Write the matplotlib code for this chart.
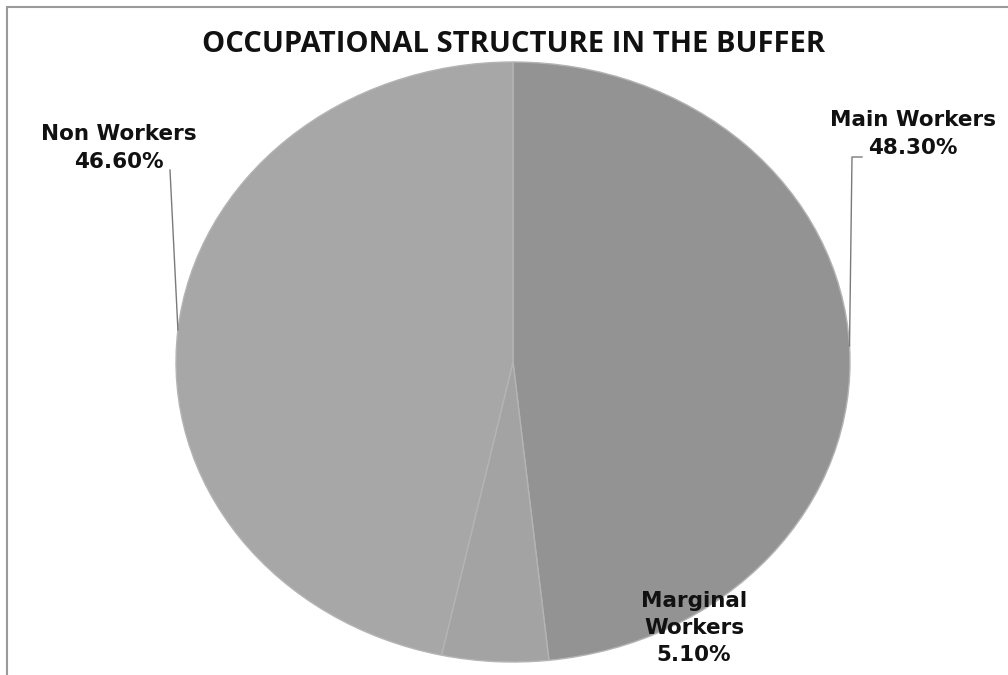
import matplotlib
matplotlib.use("Agg")
import matplotlib.pyplot as plt
import numpy as np

categories = ["Main Workers", "Marginal\nWorkers", "Non Workers"]
values = [48.3, 5.1, 46.6]
label_texts = ["Main Workers\n48.30%", "Marginal\nWorkers\n5.10%", "Non Workers\n46.60%"]
colors = ["#939393", "#a3a3a3", "#a7a7a7"]

W, H = 1008, 675
fig = plt.figure(figsize=(W / 100, H / 100), dpi=100)
fig.patch.set_facecolor("white")

# outer frame
frame = plt.Rectangle((7 / W, -0.1), 1.2, (H - 7) / H + 0.1, transform=fig.transFigure,
                      fill=False, edgecolor="#9a9a9a", linewidth=1.5)
fig.add_artist(frame)

# pie axes (elliptical pie)
cx, cy, rx, ry = 513, 362, 337, 300
ax = fig.add_axes([(cx - rx) / W, (H - cy - ry) / H, 2 * rx / W, 2 * ry / H])
wedges, _ = ax.pie(values, colors=colors, startangle=90, counterclock=False,
                   wedgeprops=dict(edgecolor="#b4b4b4", linewidth=1.0))
ax.set_aspect("auto")
ax.set_xlim(-1, 1)
ax.set_ylim(-1, 1)
ax.axis("off")

fig.text(514 / W, 1 - 44 / H, "OCCUPATIONAL STRUCTURE IN THE BUFFER",
         ha="center", va="center", fontsize=21, fontweight="bold",
         family=["Open Sans", "DejaVu Sans"], color="#111111")

# label positions (pixels)
label_pos = [(913, 134), (694, 628), (119, 148)]
fracs = np.array(values) / sum(values)
starts = 90 - 360 * np.concatenate([[0], np.cumsum(fracs)[:-1]])
mids = starts - 180 * fracs
for txt, (lx, ly) in zip(label_texts, label_pos):
    fig.text(lx / W, 1 - ly / H, txt, ha="center", va="center", fontsize=15.5,
             fontweight="bold", family="DejaVu Sans", color="#111111",
             linespacing=1.45)

# leader lines for Main and Non Workers
for i, (tx, ty) in [(0, (852, 157)), (2, (170, 170))]:
    a = np.deg2rad(mids[i])
    ex, ey = np.cos(a), np.sin(a)
    pts = ax.transData.transform((ex, ey))
    px, py = pts[0], H - pts[1]
    xs = [px, tx] + ([tx + 10] if i == 0 else [])
    ys = [py, ty] + ([ty] if i == 0 else [])
    fig.add_artist(plt.Line2D(np.array(xs) / W, 1 - np.array(ys) / H,
                              transform=fig.transFigure, color="#7a7a7a", linewidth=1.0))

fig.savefig("out.png", dpi=100, facecolor="white")
